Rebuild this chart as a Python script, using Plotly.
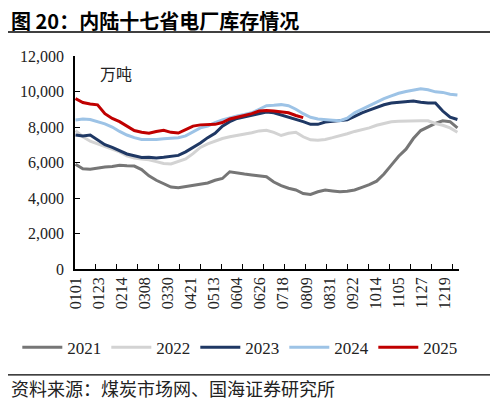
import plotly.graph_objects as go

# day index from 0101 (weekly samples)
days = list(range(0, 365, 7))
tick_days = list(range(0, 353, 22))
tick_labels = ["0101", "0123", "0214", "0308", "0330", "0421", "0513", "0604", "0626",
               "0718", "0809", "0831", "0922", "1014", "1105", "1127", "1219"]

# 万吨
y2021 = [5900, 5650, 5620, 5700, 5750, 5780, 5850, 5820, 5800, 5600, 5250, 5000, 4800, 4620,
         4580, 4650, 4720, 4780, 4850, 5000, 5100, 5480, 5400, 5350, 5300, 5260, 5200, 4900,
         4700, 4550, 4450, 4250, 4200, 4350, 4450, 4400, 4350, 4380, 4450, 4600, 4750, 4950,
         5350, 5850, 6350, 6750, 7350, 7800, 8000, 8200, 8350, 8300, 7950]
y2022 = [7800, 7450, 7200, 7050, 6900, 6780, 6600, 6380, 6250, 6200, 6150, 6050, 5950, 5920,
         6050, 6200, 6500, 6850, 7050, 7200, 7350, 7450, 7520, 7600, 7680, 7780, 7820, 7700,
         7520, 7650, 7700, 7450, 7280, 7250, 7300, 7400, 7500, 7620, 7750, 7850, 7950, 8100,
         8200, 8300, 8330, 8350, 8360, 8350, 8350, 8200, 8100, 7950, 7700]
y2023 = [7550, 7500, 7550, 7250, 7000, 6850, 6650, 6480, 6380, 6280, 6300, 6260, 6300, 6330,
         6400, 6600, 6850, 7100, 7400, 7650, 8050, 8300, 8480, 8580, 8650, 8750, 8850, 8800,
         8680, 8550, 8450, 8300, 8150, 8150, 8280, 8330, 8350, 8400, 8600, 8800, 8950, 9100,
         9250, 9350, 9380, 9420, 9460, 9400, 9350, 9350, 8900, 8550, 8420]
y2024 = [8400, 8450, 8420, 8300, 8180, 8000, 7750, 7550, 7400, 7300, 7280, 7300, 7340, 7370,
         7400, 7500, 7750, 7950, 8050, 8250, 8400, 8520, 8620, 8700, 8800, 9000, 9200, 9220,
         9260, 9200, 9000, 8750, 8550, 8450, 8400, 8380, 8350, 8500, 8800, 9000, 9200, 9400,
         9600, 9750, 9900, 10000, 10080, 10150, 10100, 9980, 9950, 9850, 9800]
y2025 = [9600, 9380, 9300, 9250, 8750, 8480, 8300, 8050, 7800, 7700, 7650, 7750, 7820, 7700,
         7660, 7850, 8050, 8120, 8120, 8150, 8250, 8450, 8550, 8650, 8750, 8900, 8930, 8900,
         8860, 8800, 8650, 8530]

series = [
    ("2021", y2021, "#767676"),
    ("2022", y2022, "#d3d3d3"),
    ("2023", y2023, "#1f3864"),
    ("2024", y2024, "#9dc3e6"),
    ("2025", y2025, "#c00000"),
]

fig = go.Figure()
for name, vals, color in series:
    fig.add_trace(go.Scatter(
        x=days[:len(vals)],
        y=vals,
        mode="lines",
        name=name,
        line=dict(color=color, width=3),
    ))

serif = "Liberation Serif, Times New Roman, serif"
cjk = "Noto Sans CJK SC"

# page body has an 8px margin, so the figure is 8px smaller each way;
# zero margins so title, rules and source all sit inside the paper area
fig.update_layout(
    width=490,
    height=395,
    margin=dict(l=0, r=0, t=0, b=0, autoexpand=False),
    paper_bgcolor="white",
    plot_bgcolor="white",
    font=dict(family=serif, size=16, color="#222"),
    showlegend=True,
    legend=dict(
        orientation="h",
        x=0.019, y=0.14,
        xanchor="left", yanchor="middle",
        bgcolor="rgba(0,0,0,0)",
        font=dict(family=serif, size=17, color="#222"),
        itemwidth=40,
        entrywidth=34,
        entrywidthmode="pixels",
        tracegroupgap=0,
    ),
)

fig.update_xaxes(
    domain=[0.1367, 0.9204],
    range=[-0.5, 365.5],
    tickmode="array",
    tickvals=tick_days,
    ticktext=tick_labels,
    tickangle=-90,
    ticks="",
    showline=True,
    linecolor="black",
    linewidth=1.5,
    showgrid=False,
    zeroline=False,
    tickfont=dict(family=serif, size=16, color="#222"),
    minor=dict(tickmode="array", tickvals=[-0.5 + 20 * i for i in range(19)],
               ticks="inside", ticklen=5, tickcolor="black", tickwidth=1.2),
)

fig.update_yaxes(
    domain=[0.3392, 0.8785],
    range=[0, 12000],
    tickvals=[0, 2000, 4000, 6000, 8000, 10000, 12000],
    tickformat=",",
    ticks="inside",
    ticklen=5,
    tickcolor="black",
    tickwidth=1.2,
    ticklabelstandoff=6,
    showline=True,
    linecolor="black",
    linewidth=1.5,
    showgrid=False,
    zeroline=False,
    tickfont=dict(family=serif, size=16, color="#222"),
)

# title, unit and source
fig.add_annotation(text="<b>图 20：内陆十七省电厂库存情况</b>", xref="paper", yref="paper",
                   x=0.002, y=0.969, xanchor="left", yanchor="middle", showarrow=False,
                   font=dict(family=cjk, size=20, color="black"))
fig.add_annotation(text="万吨", xref="paper", yref="paper", x=0.184, y=0.835,
                   xanchor="left", yanchor="middle", showarrow=False,
                   font=dict(family=cjk, size=16, color="#222"))
fig.add_annotation(text="资料来源：煤炭市场网、国海证券研究所", xref="paper", yref="paper",
                   x=0.002, y=0.037, xanchor="left", yanchor="middle", showarrow=False,
                   font=dict(family=cjk, size=18, color="#222"))

# separator rules under the title and above the source
fig.add_shape(type="line", xref="paper", yref="paper", x0=0, x1=0.99, y0=0.939, y1=0.939,
              line=dict(color="black", width=1.5))
fig.add_shape(type="line", xref="paper", yref="paper", x0=0, x1=0.99, y0=0.071, y1=0.071,
              line=dict(color="black", width=1.2))

fig.write_html("out.html")
